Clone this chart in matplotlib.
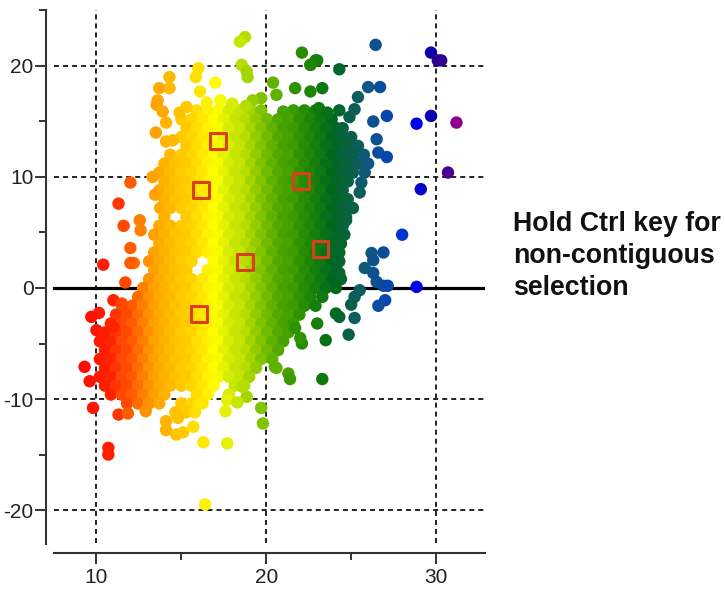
import matplotlib
matplotlib.use('Agg')
import matplotlib.pyplot as plt
from matplotlib.colors import LinearSegmentedColormap
from matplotlib.ticker import MultipleLocator

plt.rcParams['font.family'] = ['Liberation Sans', 'DejaVu Sans']
plt.rcParams['lines.scale_dashes'] = False
plt.rcParams['axes.unicode_minus'] = False

# dense cloud
row_y = [16.0, 15.2, 14.4, 13.6, 12.8, 12.0, 11.2, 10.4, 9.6, 8.8, 8.0, 7.2,
         6.4, 5.6, 4.8, 4.0, 3.2, 2.4, 1.6, 0.8, 0.0, -0.8, -1.6, -2.4, -3.2,
         -4.0, -4.8, -5.6, -6.4, -7.2, -8.0, -8.8, -9.6, -10.4, -11.2]
row_x = [
    [15.9, 16.55, 17.2, 17.8, 18.45, 19.1, 19.7, 21.6, 22.25, 22.9],
    [15.0, 15.6, 16.25, 16.9, 17.5, 18.15, 18.8, 19.4, 20.05, 20.7, 21.3, 21.95, 22.6, 23.2, 23.85],
    [15.3, 15.9, 16.55, 17.2, 17.8, 18.45, 19.1, 19.7, 20.35, 21.0, 21.6, 22.25, 22.9, 23.5, 24.15, 24.5],
    [15.0, 15.6, 16.25, 16.9, 17.5, 18.15, 18.8, 19.4, 20.05, 20.7, 21.3, 21.95, 22.6, 23.2, 23.85, 24.5, 25.0],
    [15.3, 15.9, 16.55, 17.2, 17.8, 18.45, 19.1, 19.7, 20.35, 21.0, 21.6, 22.25, 22.9, 23.5, 24.15, 24.8, 25.4],
    [14.35, 15.0, 15.6, 16.25, 16.9, 17.5, 18.15, 18.8, 19.4, 20.05, 20.7, 21.3, 21.95, 22.6, 23.2, 23.85, 24.5, 25.1, 25.75],
    [14.0, 14.65, 15.3, 15.9, 16.55, 17.2, 17.8, 18.45, 19.1, 19.7, 20.35, 21.0, 21.6, 22.25, 22.9, 23.5, 24.15, 24.8, 25.4, 26.0],
    [13.7, 14.35, 15.0, 15.6, 16.25, 16.9, 17.5, 18.15, 18.8, 19.4, 20.05, 20.7, 21.3, 21.95, 22.6, 23.2, 23.85, 24.5, 25.1, 25.8],
    [14.0, 14.65, 15.3, 15.9, 16.55, 17.2, 17.8, 18.45, 19.1, 19.7, 20.35, 21.0, 21.6, 22.25, 22.9, 23.5, 24.15, 24.8],
    [13.7, 14.35, 15.0, 15.6, 16.25, 16.9, 17.5, 18.15, 18.8, 19.4, 20.05, 20.7, 21.3, 21.95, 22.6, 23.2, 23.85, 24.5],
    [14.0, 14.65, 15.3, 15.9, 16.55, 17.2, 17.8, 18.45, 19.1, 19.7, 20.35, 21.0, 21.6, 22.25, 22.9, 23.5, 24.15, 24.8],
    [13.75, 14.35, 15.0, 15.6, 16.25, 16.9, 17.5, 18.15, 18.8, 19.4, 20.05, 20.7, 21.3, 21.95, 22.6, 23.2, 23.85, 24.5, 25.1],
    [14.0, 15.3, 15.9, 16.55, 17.2, 17.8, 18.45, 19.1, 19.7, 20.35, 21.0, 21.6, 22.25, 22.9, 23.5, 24.15, 24.7],
    [13.7, 14.35, 15.0, 15.6, 16.25, 16.9, 17.5, 18.15, 18.8, 19.4, 20.05, 20.7, 21.3, 21.95, 22.6, 23.2, 23.85, 24.5],
    [13.4, 14.0, 14.65, 15.3, 15.9, 16.55, 17.2, 17.8, 18.45, 19.1, 19.7, 20.35, 21.0, 21.6, 22.25, 22.9, 23.5, 24.15, 24.6],
    [13.7, 14.35, 15.0, 15.6, 16.25, 16.9, 17.5, 18.15, 18.8, 19.4, 20.05, 20.7, 21.3, 21.95, 22.6, 23.2, 23.85, 24.4],
    [13.4, 14.0, 14.65, 15.3, 15.9, 16.55, 17.2, 17.8, 18.45, 19.1, 19.7, 20.35, 21.0, 21.6, 22.25, 22.9, 23.5, 24.15],
    [13.1, 13.7, 14.35, 15.0, 15.6, 16.9, 17.5, 18.15, 18.8, 19.4, 20.05, 20.7, 21.3, 21.95, 22.6, 23.2, 23.85, 24.3],
    [13.4, 14.0, 14.65, 15.3, 16.55, 17.2, 17.8, 18.45, 19.1, 19.7, 20.35, 21.0, 21.6, 22.25, 22.9, 23.5, 24.15],
    [13.1, 13.7, 14.35, 15.0, 15.6, 16.25, 16.9, 17.5, 18.15, 18.8, 19.4, 20.05, 20.7, 21.3, 21.95, 22.6, 23.2, 23.85, 24.4],
    [12.75, 13.4, 14.0, 14.65, 15.3, 15.9, 16.55, 17.2, 17.8, 18.45, 19.1, 19.7, 20.35, 21.0, 21.6, 22.25, 22.9, 23.5, 24.1],
    [12.45, 13.1, 13.7, 14.35, 15.0, 15.6, 16.25, 16.9, 17.5, 18.15, 18.8, 19.4, 20.05, 20.7, 21.3, 21.95, 22.6, 23.3],
    [11.5, 12.1, 12.75, 13.4, 14.0, 14.65, 15.3, 15.9, 16.55, 17.2, 17.8, 18.45, 19.1, 19.7, 20.35, 21.0, 21.6, 22.25, 22.9],
    [11.15, 11.8, 12.45, 13.1, 13.7, 14.35, 15.0, 15.6, 16.25, 16.9, 17.5, 18.15, 18.8, 19.4, 20.05, 20.7, 21.3, 21.95],
    [10.85, 11.5, 12.1, 12.75, 13.4, 14.0, 14.65, 15.3, 15.9, 16.55, 17.2, 17.8, 18.45, 19.1, 19.7, 20.35, 21.0, 21.6],
    [10.5, 11.15, 11.8, 12.45, 13.1, 13.7, 14.35, 15.0, 15.6, 16.25, 16.9, 17.5, 18.15, 18.8, 19.4, 20.05, 20.7, 21.3],
    [10.2, 10.85, 11.5, 12.1, 12.75, 13.4, 14.0, 14.65, 15.3, 15.9, 16.55, 17.2, 17.8, 18.45, 19.1, 19.7, 20.35, 21.0],
    [10.5, 11.15, 11.8, 12.45, 13.1, 13.7, 14.35, 15.0, 15.6, 16.25, 16.9, 17.5, 18.15, 18.8, 19.4, 20.05, 20.7],
    [10.2, 10.85, 11.5, 12.1, 12.75, 13.4, 14.0, 14.65, 15.3, 15.9, 16.55, 17.2, 17.8, 18.45, 19.1, 19.7, 20.35],
    [10.5, 11.15, 11.8, 12.45, 13.1, 13.7, 14.35, 15.0, 15.6, 16.25, 16.9, 17.5, 18.15, 18.8, 19.4, 20.6],
    [10.2, 10.85, 11.5, 12.1, 12.75, 13.4, 14.0, 14.65, 15.3, 15.9, 16.55, 17.2, 17.8, 18.45, 19.0],
    [10.5, 11.15, 11.8, 12.45, 13.1, 13.7, 14.35, 15.0, 15.6, 16.25, 16.9, 18.15, 18.7],
    [10.85, 11.5, 12.1, 12.75, 13.4, 14.0, 15.9, 16.55, 17.8],
    [11.8, 12.45, 13.1, 13.7, 15.0, 15.6, 16.25],
    [14.65, 15.3, 15.8],
]

# points that stand on their own round the cloud
stray_x = [26.44, 29.7, 30.1, 30.3, 24.3, 26.0, 26.7, 25.4, 27.1, 26.3, 29.7, 28.85, 31.2,
           26.5, 26.6, 27.1, 30.7, 29.1, 25.6, 25.5, 25.2, 24.9, 24.3, 23.3, 23.0, 22.6, 22.1,
           28.0, 26.9, 26.2, 26.3, 25.8, 26.3, 26.5, 26.9, 27.15, 28.85, 25.5, 25.2, 25.0, 25.2,
           27.0, 26.6, 24.1, 24.3, 23.0, 24.85, 23.5, 23.3, 21.3, 21.4, 22.1, 22.0, 21.7, 20.5,
           24.7, 24.3, 24.3,
           11.3, 11.6, 12.55, 12.6, 12.0, 12.2, 12.0, 10.4, 11.7, 11.0, 11.5, 10.15, 9.7, 10.0,
           10.4, 11.0, 9.3, 9.6, 9.8, 11.3, 11.85, 12.9,
           10.7, 10.7, 16.3, 17.7, 16.4, 19.7, 19.8, 17.6, 17.7, 18.85, 18.3, 18.6, 14.1, 14.7,
           15.1, 15.7, 14.8, 14.1, 16.1,
           18.75, 18.45, 18.55, 18.85, 18.9, 16.0, 15.85, 17.0, 14.3, 14.3, 13.7, 13.6, 13.55,
           13.9, 14.1, 13.5, 14.1, 14.5, 16.1, 15.3, 14.9, 20.4, 20.6, 19.7, 19.2, 22.9, 22.6,
           21.7, 22.6, 23.1, 12.0, 13.3, 13.45,
           16.5, 17.3, 18.0, 18.8, 21.0, 23.6, 24.9]
stray_y = [21.9, 21.2, 20.5, 20.5, 19.7, 18.1, 18.1, 17.2, 15.5, 15.0, 15.5, 14.8, 14.9,
           13.4, 12.2, 11.8, 10.4, 8.9, 9.5, 8.6, 16.1, 15.4, 16.0, 18.0, 20.5, 20.1, 21.2,
           4.8, 3.2, 3.15, 2.5, 1.8, 1.35, 0.55, 0.2, 0.2, 0.1, -0.2, -0.8, -1.5, -2.7,
           -1.1, -1.6, -2.3, -2.6, -3.2, -4.2, -4.7, -8.2, -7.7, -8.2, -5.0, -4.5, -3.6, -7.1,
           6.1, 3.2, 1.35,
           7.6, 5.6, 6.1, 5.2, 3.6, 2.25, 2.25, 2.1, 0.5, -1.1, -1.4, -2.25, -2.6, -3.8,
           -4.1, -3.5, -7.1, -8.4, -10.8, -11.4, -11.3, -11.1,
           -14.4, -15.0, -13.9, -14.0, -19.5, -10.8, -12.2, -11.1, -10.1, -9.8, -10.3, -8.9, -12.8, -13.2,
           -13.0, -12.5, -11.7, -12.0, -10.4,
           22.6, 22.2, 20.1, 19.5, 19.0, 19.8, 19.0, 18.5, 19.0, 18.0, 18.0, 16.9, 16.5,
           15.9, 14.9, 14.0, 13.2, 13.3, 17.7, 16.3, 15.8, 18.5, 17.4, 17.1, 16.9, 20.5, 20.1,
           18.0, 17.7, 16.2, 9.5, 10.0, 8.4,
           16.7, 16.9, 16.6, 16.4, 15.9, 15.8, 12.0]

# selected points, the red squares
sel_x = [17.15, 16.15, 16.03, 18.74, 22.03, 23.2]
sel_y = [13.25, 8.83, -2.34, 2.34, 9.64, 3.51]

x_ticks = [10, 20, 30]
y_ticks = [-20, -10, 0, 10, 20]
note_lines = ["Hold Ctrl key for", "non-contiguous", "selection"]

# colour runs with x, red at the left to purple at the right
color_stops = [(9.0, '#ff0c00'), (10.8, '#ff2400'), (13.2, '#ffa000'), (15.0, '#ffc800'),
               (17.0, '#ffff00'), (18.7, '#b4dc00'), (20.5, '#5cb000'), (22.0, '#2a9000'),
               (24.0, '#006a1c'), (25.0, '#0a6044'), (26.0, '#10587c'), (27.0, '#0a4aa4'),
               (28.5, '#0030d4'), (29.0, '#0000f0'), (30.0, '#100090'), (30.5, '#300090'),
               (31.5, '#900090')]
lo, hi = color_stops[0][0], color_stops[-1][0]
cmap = LinearSegmentedColormap.from_list(
    'rainbow_x', [((v - lo) / (hi - lo), c) for v, c in color_stops], N=64)

W, H = 725, 591
fig = plt.figure(figsize=(W / 100, H / 100), dpi=100)
left, right, top, bottom = 46, 485, 10, 553
ax = fig.add_axes([left / W, 1 - bottom / H, (right - left) / W, (bottom - top) / H])

ax.set_xlim(7.03, 32.88)
ax.set_ylim(-23.87, 25.04)

# grid goes behind the points
dash = (0, (3.6, 2.9))
for v in x_ticks:
    ax.plot([v, v], [-23.0, 25.04], color='#222222', lw=1.4, ls=dash, zorder=1)
for v in y_ticks:
    if v == 0:
        ax.plot([7.5, 32.88], [v, v], color='black', lw=2.3, zorder=1)
    else:
        ax.plot([7.5, 32.88], [v, v], color='#222222', lw=1.4, ls=dash, zorder=1)

xs = []
ys = []
for y, row in zip(row_y, row_x):
    for x in row:
        xs.append(x)
        ys.append(y)
xs += stray_x
ys += stray_y

ax.scatter(xs, ys, c=xs, cmap=cmap, vmin=lo, vmax=hi, s=80, linewidths=0, zorder=2)
ax.scatter(sel_x, sel_y, marker='s', s=125, facecolors='none', edgecolors='#d8401f',
           linewidths=2.2, zorder=3)

for side in ['top', 'right']:
    ax.spines[side].set_visible(False)
ax.spines['left'].set_bounds(-23.1, 25.04)
ax.spines['bottom'].set_bounds(7.5, 32.88)
for side in ['left', 'bottom']:
    ax.spines[side].set_color('#333333')
    ax.spines[side].set_linewidth(1.5)

ax.set_xticks(x_ticks)
ax.set_yticks(y_ticks)
ax.xaxis.set_minor_locator(MultipleLocator(5))
ax.yaxis.set_minor_locator(MultipleLocator(5))
ax.tick_params(axis='both', which='major', length=8, width=1.4, color='#333333',
               labelsize=15, labelcolor='#222222')
ax.tick_params(axis='x', which='major', pad=3)
ax.tick_params(axis='y', which='major', pad=1)
ax.tick_params(axis='both', which='minor', length=5, width=1.4, color='#333333')

for i, line in enumerate(note_lines):
    fig.text(513 / W, 1 - (231 + i * 32) / H, line, fontsize=19.3, fontweight='bold',
             color='#111111', va='baseline', ha='left')

fig.savefig('out.png', dpi=100)
